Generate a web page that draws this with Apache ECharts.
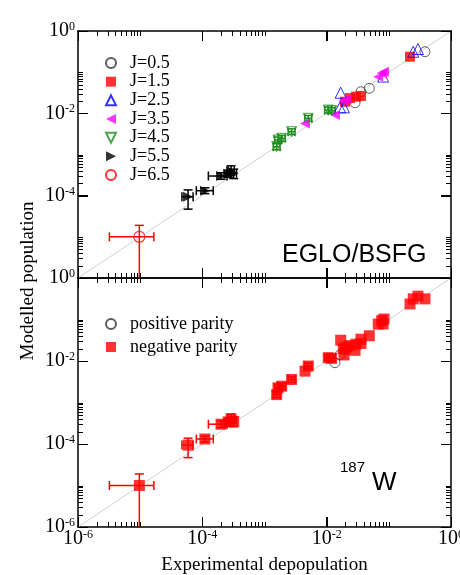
<!DOCTYPE html>
<html><head><meta charset="utf-8">
<script src="https://cdn.jsdelivr.net/npm/echarts@6/dist/echarts.min.js"></script>
<style>html,body{margin:0;padding:0;background:#fff}#c{width:460px;height:575px;background:#fff}</style>
</head><body><div id="c"></div><script>
// ---- data: [experimental depopulation, modelled population] ----
const J05 = [[0.381,0.314],[4.85e-2,4.06e-2],[3.56e-2,3.35e-2],[2.86e-2,1.81e-2]];
const J15 = [[0.219,0.237],[1.97e-2,1.91e-2],[2.37e-2,2.35e-2],[2.96e-2,2.54e-2],[3.56e-2,2.64e-2]];
const J25 = [[1.68e-2,3.17e-2],[1.64e-2,1.4e-2],[1.9e-2,1.4e-2],[8.1e-2,7.8e-2],[0.247,0.314],[0.294,0.365]];
const J35 = [[4.48e-3,5.7e-3],[1.36e-2,9.1e-3],[1.85e-2,1.99e-2],[2.1e-2,2.19e-2],[6.76e-2,7.76e-2],[7.67e-2,9.4e-2],[8.36e-2,0.1026]];
const J45 = [[1.57e-3,1.55e-3],[1.65e-3,2.25e-3],[1.89e-3,2.47e-3],[2.73e-3,3.58e-3],[5.06e-3,7.57e-3],[1.06e-2,1.2e-2],[1.2e-2,1.16e-2]];
const J55 = [[5.9e-5,9.4e-5],[1.1e-4,1.32e-4],[2.0e-4,3.0e-4],[2.6e-4,3.4e-4],[2.9e-4,4.0e-4],[3.2e-4,3.5e-4]];
const J65 = [[9.7e-6,1.0e-5]];
// error ranges: [xLow, xHigh, yLow, yHigh]
const J45err = [[1.38e-3,1.78e-3,1.30e-3,1.85e-3],[1.45e-3,1.88e-3,1.9e-3,2.65e-3],[1.66e-3,2.15e-3,2.1e-3,2.9e-3],[2.4e-3,3.1e-3,3.05e-3,4.2e-3],[4.45e-3,5.75e-3,6.45e-3,8.9e-3],[9.3e-3,1.2e-2,1.02e-2,1.41e-2],[1.06e-2,1.37e-2,9.9e-3,1.36e-2]];
const J55err = [[4.7e-5,7.1e-5,4.7e-5,1.38e-4],[8.0e-5,1.5e-4,1.12e-4,1.55e-4],[1.25e-4,2.5e-4,2.5e-4,3.6e-4],[2.3e-4,2.95e-4,2.8e-4,4.1e-4],[2.6e-4,3.25e-4,3.2e-4,5.3e-4],[2.9e-4,3.55e-4,2.6e-4,4.4e-4]];
const J65err = [[3.2e-6,1.66e-5,1e-7,1.9e-5]];
// parity (bottom panel)
const positiveParity = [[1.36e-2,9.1e-3],[1.64e-2,1.4e-2]];
const jNames = ['J=0.5','J=1.5','J=2.5','J=3.5','J=4.5','J=5.5','J=6.5'];
const parityNames = ['positive parity','negative parity'];
const majorExponents = [-6,-4,-2,0];
const minorDecades = [-6,-4,-2];
const minorMultipliers = [2,3,4,5,6,7,8,9,10];
const diagonal = [[1e-6,1e-6],[1,1]];

// ---- helpers ----
const SERIF = '"Liberation Serif","Times New Roman",serif';
const SANS = '"Liberation Sans",Arial,sans-serif';
const lg = v => Math.log10(v);
const toLog = arr => arr.map(p => [lg(p[0]), lg(p[1])]);
const minorVals = [];
minorDecades.forEach(e => minorMultipliers.forEach(k => minorVals.push(e + lg(k))));

const allPoints = [].concat(J05,J15,J25,J35,J45,J55,J65);
const isPos = p => positiveParity.some(q => q[0] === p[0] && q[1] === p[1]);
const negativeParity = allPoints.filter(p => !isPos(p));

const labelRich = {
  b: {fontFamily: SERIF, fontSize: 20, color: '#000', lineHeight: 20, padding: [6,0,0,0], verticalAlign: 'bottom'},
  s: {fontFamily: SERIF, fontSize: 12, color: '#000', lineHeight: 12, verticalAlign: 'top'}
};
const fmt = v => '{b|10}{s|' + Math.round(v) + '}';

function ax(gridIndex, position, labels, margin) {
  const a = {
    type: 'value', gridIndex, position, min: -6, max: 0, interval: 2,
    axisLine: {show: true, onZero: false, lineStyle: {color: '#000', width: 1.5}},
    axisTick: {show: true, inside: true, length: 10, lineStyle: {color: '#000', width: 1}},
    axisLabel: {show: false},
    splitLine: {show: false}
  };
  if (labels) {
    a.axisLabel = {show: true, customValues: labels, formatter: fmt, rich: labelRich, margin: margin};
  }
  return a;
}

const xAxis = [
  ax(0,'bottom'), ax(0,'top'),
  ax(1,'bottom',majorExponents,2), ax(1,'top')
];
const yAxis = [
  ax(0,'left',[0,-2,-4],3), ax(0,'right'),
  ax(1,'left',[0,-2,-4,-6],3), ax(1,'right')
];

function errData(pts, errs) {
  return pts.map((p, i) => [lg(p[0]), lg(p[1]), lg(errs[i][0]), lg(errs[i][1]), lg(errs[i][2]), lg(errs[i][3])]);
}
function errRender(color) {
  return function (params, api) {
    const x = api.value(0), y = api.value(1);
    const c = api.coord([x, y]);
    const xl = api.coord([api.value(2), y])[0], xh = api.coord([api.value(3), y])[0];
    const yl = api.coord([x, api.value(4)])[1], yh = api.coord([x, api.value(5)])[1];
    const h = 4.5;
    const L = (x1, y1, x2, y2) => ({type: 'line', shape: {x1, y1, x2, y2}, style: {stroke: color, lineWidth: 1.5}});
    return {type: 'group', children: [
      L(xl, c[1], xh, c[1]), L(xl, c[1] - h, xl, c[1] + h), L(xh, c[1] - h, xh, c[1] + h),
      L(c[0], yl, c[0], yh), L(c[0] - h, yl, c[0] + h, yl), L(c[0] - h, yh, c[0] + h, yh)
    ]};
  };
}
function errSeries(g, pts, errs, color) {
  return {type: 'custom', xAxisIndex: g * 2, yAxisIndex: g * 2, clip: true, z: 2,
    encode: {x: 0, y: 1}, data: errData(pts, errs), renderItem: errRender(color)};
}
function diagSeries(g) {
  return {type: 'line', xAxisIndex: g * 2, yAxisIndex: g * 2, data: toLog(diagonal), symbol: 'none',
    z: 1, lineStyle: {color: '#d0d0d0', width: 1}};
}
const clear = 'rgba(255,255,255,0)';
const triLeft = 'path://M10,0 L0,5 L10,10 Z';
const triRight = 'path://M0,0 L10,5 L0,10 Z';
const triDown = 'path://M0,0 L10,0 L5,10 Z';
function sc(g, name, pts, symbol, size, itemStyle) {
  return {type: 'scatter', name, xAxisIndex: g * 2, yAxisIndex: g * 2, data: toLog(pts),
    symbol, symbolSize: size, z: 3, itemStyle};
}

const series = [
  diagSeries(0), diagSeries(1),
  errSeries(0, J45, J45err, '#1f8f1f'), errSeries(0, J55, J55err, '#000'), errSeries(0, J65, J65err, '#ff0000'),
  errSeries(1, J45, J45err, '#ff0000'), errSeries(1, J55, J55err, '#ff0000'), errSeries(1, J65, J65err, '#ff0000'),
  sc(0, jNames[0], J05, 'circle', 10, {color: clear, borderColor: '#333', borderWidth: 1}),
  sc(0, jNames[1], J15, 'rect', 10, {color: '#ff0000'}),
  sc(0, jNames[2], J25, 'triangle', 11, {color: clear, borderColor: '#0000ff', borderWidth: 1}),
  sc(0, jNames[3], J35, triLeft, 10, {color: '#ff00ff'}),
  sc(0, jNames[4], J45, triDown, 10, {color: clear, borderColor: '#1f8f1f', borderWidth: 1}),
  sc(0, jNames[5], J55, triRight, 10, {color: '#000'}),
  sc(0, jNames[6], J65, 'circle', 11, {color: clear, borderColor: '#ff0000', borderWidth: 1.2}),
  sc(1, parityNames[0], positiveParity, 'circle', 10, {color: clear, borderColor: '#333', borderWidth: 1}),
  sc(1, parityNames[1], negativeParity, 'rect', 11, {color: '#ff0000'})
];

const legendBase = {orient: 'vertical', left: 105, itemWidth: 10, itemHeight: 10, padding: 0,
  selectedMode: false,
  textStyle: {fontFamily: SERIF, fontSize: 18, color: '#000', lineHeight: 18, padding: [0, 0, 0, 9]}};

const textGraphics = [
  {id: 't1', type: 'text', x: 282, y: 255, silent: true, style: {text: 'EGLO/BSFG', font: '25px ' + SANS, fill: '#000',
    align: 'left', verticalAlign: 'middle', textAlign: 'left', textVerticalAlign: 'middle'}},
  {id: 't2', type: 'text', x: 340, y: 468, silent: true, style: {text: '187', font: '15px ' + SANS, fill: '#000',
    align: 'left', verticalAlign: 'middle', textAlign: 'left', textVerticalAlign: 'middle'}},
  {id: 't3', type: 'text', x: 372, y: 483, silent: true, style: {text: 'W', font: '26px ' + SANS, fill: '#000',
    align: 'left', verticalAlign: 'middle', textAlign: 'left', textVerticalAlign: 'middle'}},
  {id: 't4', type: 'text', x: 264.5, y: 565, silent: true, style: {text: 'Experimental depopulation', font: '19px ' + SERIF, fill: '#000',
    align: 'center', verticalAlign: 'middle', textAlign: 'center', textVerticalAlign: 'middle'}},
  {id: 't5', type: 'text', x: 28, y: 281, rotation: Math.PI / 2, silent: true, style: {text: 'Modelled population', font: '19px ' + SERIF, fill: '#000',
    align: 'center', verticalAlign: 'middle', textAlign: 'center', textVerticalAlign: 'middle'}}
];

const option = {
  animation: false,
  grid: [
    {left: 78, top: 31, width: 373, height: 247, outerBoundsMode: 'none'},
    {left: 78, top: 278, width: 373, height: 249, outerBoundsMode: 'none'}
  ],
  xAxis, yAxis,
  legend: [
    Object.assign({}, legendBase, {top: 54, itemGap: 0.67, data: jNames}),
    Object.assign({}, legendBase, {top: 315, itemGap: 5, data: parityNames})
  ],
  graphic: textGraphics,
  series
};
const chart = echarts.init(document.getElementById('c'), null, {renderer: 'canvas'});
chart.setOption(option);

// inward logarithmic ticks on all four sides, placed through the grid's own scales
const tickEls = [];
const px = v => Math.round(v) + 0.5;
[0, 1].forEach(g => {
  [[majorExponents, 10], [minorVals, 5]].forEach(([vals, len]) => {
    vals.forEach(v => {
      const b = chart.convertToPixel({gridIndex: g}, [v, -6]);
      const t = chart.convertToPixel({gridIndex: g}, [v, 0]);
      const l = chart.convertToPixel({gridIndex: g}, [-6, v]);
      const r = chart.convertToPixel({gridIndex: g}, [0, v]);
      const st = {stroke: '#000', lineWidth: 1};
      tickEls.push({type: 'line', silent: true, z: 50, shape: {x1: px(b[0]), y1: b[1], x2: px(b[0]), y2: b[1] - len}, style: Object.assign({}, st)});
      tickEls.push({type: 'line', silent: true, z: 50, shape: {x1: px(t[0]), y1: t[1], x2: px(t[0]), y2: t[1] + len}, style: Object.assign({}, st)});
      tickEls.push({type: 'line', silent: true, z: 50, shape: {x1: l[0], y1: px(l[1]), x2: l[0] + len, y2: px(l[1])}, style: Object.assign({}, st)});
      tickEls.push({type: 'line', silent: true, z: 50, shape: {x1: r[0], y1: px(r[1]), x2: r[0] - len, y2: px(r[1])}, style: Object.assign({}, st)});
    });
  });
});
chart.setOption({graphic: textGraphics.concat([{id: 'ticks', type: 'group', silent: true, z: 50, children: tickEls}])});
</script></body></html>
